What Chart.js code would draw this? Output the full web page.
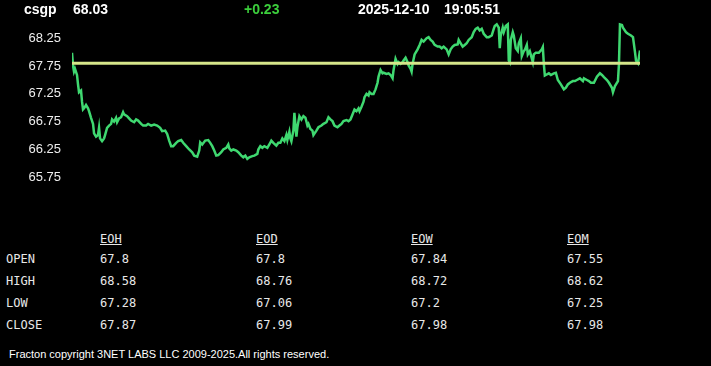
<!DOCTYPE html>
<html>
<head>
<meta charset="utf-8">
<script src="https://cdn.jsdelivr.net/npm/chart.js@4.4.1/dist/chart.umd.min.js"></script>
<style>
  body { margin: 0; background: #000; width: 711px; height: 366px; overflow: hidden; position: relative; font-family: Arial, "Liberation Sans", sans-serif; color: #fff; }
  #wrap { position: absolute; left: 0; top: 0; width: 711px; height: 210px; }
  .hdr { position: absolute; top: 1px; font-weight: bold; font-size: 14px; line-height: 16px; white-space: pre; }
  .tbl { position: absolute; font-family: "DejaVu Sans Mono", monospace; font-size: 12px; line-height: 14px; color: #e8e8e8; white-space: pre; }
  .tbl.head { text-decoration: underline; }
  #foot { position: absolute; left: 9px; top: 348px; font-size: 11px; line-height: 13px; color: #fff; }
</style>
</head>
<body>
<div id="wrap"><canvas id="chart" width="711" height="210"></canvas></div>
<div id="header"></div>
<div id="table"></div>
<div id="foot">Fracton copyright 3NET LABS LLC 2009-2025.All rights reserved.</div>
<script>
// quote header
const symbol = "csgp";
const last = "68.03";
const change = "+0.23";
const quoteDate = "2025-12-10";
const quoteTime = "19:05:51";
const prevClose = 67.80;

// intraday series (sample index, price)
const t = [0, 1, 2, 3, 5, 6, 7, 9, 10, 11, 12, 14, 16, 17, 19, 21, 22, 24, 26, 27, 28, 30, 32, 33, 35, 37, 39, 40, 42, 44,
  45, 47, 49, 51, 52, 55, 57, 59, 62, 64, 66, 69, 71, 74, 76, 79, 82, 85, 88, 90, 93, 95, 97, 99, 101, 104, 106, 109, 111, 114,
  117, 120, 122, 125, 127, 128, 130, 133, 136, 138, 140, 142, 144, 146, 149, 151, 154, 156, 157, 159, 161, 164, 166, 169, 171, 173, 175, 177, 180, 182,
  185, 186, 188, 190, 192, 195, 197, 199, 201, 204, 206, 208, 210, 212, 214, 215, 217, 218, 219, 221, 222, 224, 225, 227, 229, 231, 233, 235, 236, 238,
  240, 241, 244, 246, 249, 251, 254, 256, 258, 260, 262, 265, 267, 269, 271, 274, 276, 278, 280, 282, 284, 286, 287, 289, 291, 292, 294, 296, 297, 299,
  301, 303, 305, 306, 308, 310, 311, 314, 316, 318, 320, 321, 323, 325, 326, 328, 330, 331, 333, 335, 336, 338, 339, 340, 342, 345, 347, 349, 351, 354,
  356, 358, 360, 362, 365, 367, 369, 371, 374, 376, 378, 380, 382, 385, 386, 388, 390, 392, 394, 396, 399, 401, 403, 405, 407, 409, 411, 414, 416, 419,
  421, 422, 424, 426, 427, 428, 430, 431, 433, 435, 436, 437, 438, 440, 441, 443, 445, 446, 448, 449, 451, 452, 454, 455, 457, 460, 461, 463, 466, 469,
  470, 471, 472, 473, 476, 478, 481, 483, 485, 488, 491, 493, 495, 497, 500, 502, 504, 507, 510, 511, 514, 516, 518, 521, 524, 527, 529, 531, 534, 536,
  539, 540, 542, 545, 546, 547, 549, 550, 553, 555, 558, 560, 562, 563, 565, 567];
const price = [67.99, 67.76, 67.65, 67.70, 67.59, 67.42, 67.28, 67.31, 67.11, 66.97, 66.99, 67.05, 66.99, 66.94, 66.82, 66.71, 66.54, 66.48, 66.51, 66.64,
  66.45, 66.40, 66.45, 66.51, 66.64, 66.68, 66.71, 66.79, 66.75, 66.82, 66.74, 66.81, 66.83, 66.92, 66.88, 66.85, 66.81, 66.77, 66.74, 66.79,
  66.77, 66.71, 66.68, 66.68, 66.71, 66.68, 66.70, 66.68, 66.64, 66.58, 66.59, 66.53, 66.41, 66.31, 66.31, 66.37, 66.40, 66.42, 66.37, 66.31,
  66.25, 66.20, 66.14, 66.12, 66.23, 66.38, 66.34, 66.41, 66.42, 66.37, 66.31, 66.23, 66.14, 66.15, 66.20, 66.25, 66.28, 66.34, 66.27, 66.23,
  66.25, 66.23, 66.20, 66.14, 66.11, 66.14, 66.08, 66.11, 66.13, 66.14, 66.17, 66.25, 66.31, 66.28, 66.31, 66.28, 66.34, 66.41, 66.37, 66.32,
  66.37, 66.37, 66.45, 66.40, 66.51, 66.42, 66.57, 66.45, 66.40, 66.59, 66.91, 66.48, 66.65, 66.85, 66.79, 66.85, 66.82, 66.68, 66.71, 66.62,
  66.59, 66.51, 66.59, 66.65, 66.68, 66.71, 66.74, 66.83, 66.79, 66.76, 66.68, 66.65, 66.68, 66.71, 66.76, 66.78, 66.76, 66.79, 66.88, 66.97,
  66.94, 66.99, 66.94, 67.02, 67.11, 67.19, 67.25, 67.22, 67.28, 67.25, 67.25, 67.33, 67.45, 67.56, 67.68, 67.62, 67.63, 67.61, 67.62, 67.59,
  67.53, 67.68, 67.88, 67.79, 67.82, 67.79, 67.82, 67.85, 67.90, 67.82, 67.76, 67.70, 67.65, 67.79, 67.96, 68.05, 68.13, 68.22, 68.19, 68.25,
  68.27, 68.22, 68.19, 68.13, 68.10, 68.10, 68.07, 68.10, 68.05, 67.96, 68.05, 68.10, 68.13, 68.14, 68.22, 68.16, 68.10, 68.13, 68.16, 68.22,
  68.27, 68.36, 68.42, 68.44, 68.39, 68.42, 68.33, 68.27, 68.27, 68.30, 68.42, 68.47, 68.50, 68.44, 68.07, 68.30, 68.44, 68.36, 68.47, 68.50,
  67.85, 67.82, 68.22, 68.36, 68.30, 68.07, 68.02, 68.16, 68.25, 67.93, 68.02, 68.04, 68.13, 67.96, 68.02, 67.82, 67.96, 67.99, 67.99, 68.05,
  68.09, 67.79, 67.58, 67.59, 67.62, 67.59, 67.62, 67.63, 67.50, 67.42, 67.33, 67.36, 67.42, 67.45, 67.48, 67.48, 67.50, 67.53, 67.48, 67.53,
  67.50, 67.48, 67.45, 67.45, 67.56, 67.62, 67.59, 67.55, 67.50, 67.45, 67.36, 67.28, 67.39, 67.48, 67.79, 68.50, 68.49, 68.44, 68.36, 68.33,
  68.30, 68.27, 68.00, 67.85, 67.80, 68.03];

// y axis tick labels
const yTicks = [65.75, 66.25, 66.75, 67.25, 67.75, 68.25];

// summary table
const periods = ["EOH", "EOD", "EOW", "EOM"];
const rowNames = ["OPEN", "HIGH", "LOW", "CLOSE"];
const openVals = ["67.8", "67.8", "67.84", "67.55"];
const highVals = ["68.58", "68.76", "68.72", "68.62"];
const lowVals = ["67.28", "67.06", "67.2", "67.25"];
const closeVals = ["67.87", "67.99", "67.98", "67.98"];

// header text
const header = document.getElementById("header");
const hdrItems = [
  { text: symbol, x: 24, color: "#fff" },
  { text: last, x: 73, color: "#fff" },
  { text: change, x: 244, color: "#3ccf3c" },
  { text: quoteDate, x: 358, color: "#fff" },
  { text: quoteTime, x: 444, color: "#fff" }
];
hdrItems.forEach(h => {
  const s = document.createElement("span");
  s.className = "hdr";
  s.style.left = h.x + "px";
  s.style.color = h.color;
  s.textContent = h.text;
  header.appendChild(s);
});

// table
const table = document.getElementById("table");
const colX = [100, 256, 411, 567];
const rowY = [259, 281, 303, 325];
function cell(text, x, y, cls) {
  const d = document.createElement("div");
  d.className = "tbl" + (cls ? " " + cls : "");
  d.style.left = x + "px";
  d.style.top = (y - 7) + "px";
  d.textContent = text;
  table.appendChild(d);
}
periods.forEach((p, i) => cell(p, colX[i], 239, "head"));
const rows = [openVals, highVals, lowVals, closeVals];
rowNames.forEach((name, r) => {
  cell(name, 6, rowY[r]);
  rows[r].forEach((v, i) => cell(v, colX[i], rowY[r]));
});

// chart
const series = t.map((x, i) => ({ x: x, y: price[i] }));
const prevLine = [{ x: t[0], y: prevClose }, { x: t[t.length - 1], y: prevClose }];

const ctx = document.getElementById("chart").getContext("2d");
new Chart(ctx, {
  type: "line",
  data: {
    datasets: [
      { data: prevLine, borderColor: "#d6e68a", borderWidth: 3, pointRadius: 0, order: 0 },
      { data: series, borderColor: "#3fd870", borderWidth: 2.5, pointRadius: 0, tension: 0, order: 1 }
    ]
  },
  options: {
    responsive: false,
    animation: false,
    layout: { padding: { top: 17, right: 71, bottom: 11, left: 0 } },
    plugins: { legend: { display: false }, tooltip: { enabled: false } },
    scales: {
      x: { type: "linear", display: false, min: 0, max: 567 },
      y: {
        min: 65.5,
        max: 68.6,
        grid: { display: false, drawTicks: false },
        border: { display: false },
        afterBuildTicks: axis => { axis.ticks = yTicks.map(v => ({ value: v })); },
        afterFit: axis => { axis.width = 72; },
        ticks: {
          color: "#eeeeee",
          padding: 11,
          font: { family: "Arial, 'Liberation Sans', sans-serif", size: 13 },
          callback: v => Number(v).toFixed(2)
        }
      }
    }
  }
});
</script>
</body>
</html>
